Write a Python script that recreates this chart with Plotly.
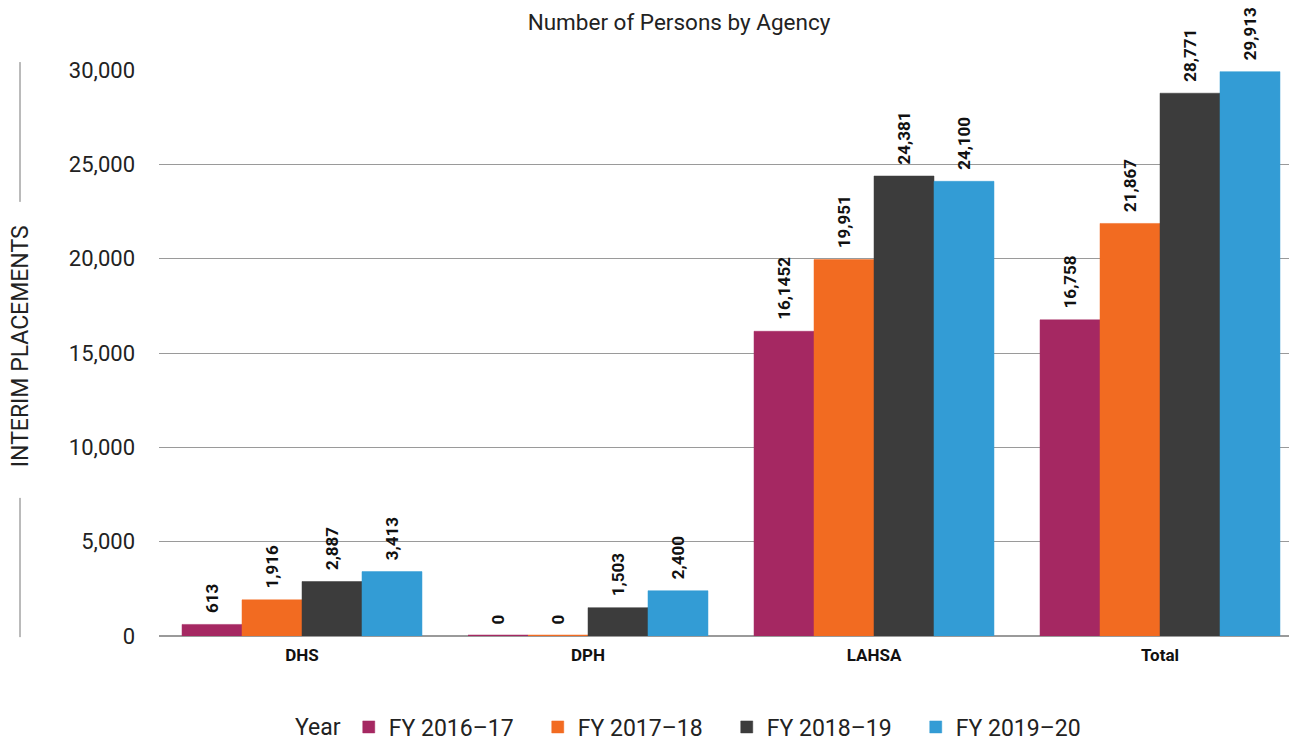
import plotly.graph_objects as go

categories = ["DHS", "DPH", "LAHSA", "Total"]
series_names = ["FY 2016–17", "FY 2017–18", "FY 2018–19", "FY 2019–20"]
fy1617 = [613, 0, 16152, 16758]
fy1718 = [1916, 0, 19951, 21867]
fy1819 = [2887, 1503, 24381, 28771]
fy1920 = [3413, 2400, 24100, 29913]
labels1617 = ["613", "0", "16,1452", "16,758"]
labels1718 = ["1,916", "0", "19,951", "21,867"]
labels1819 = ["2,887", "1,503", "24,381", "28,771"]
labels1920 = ["3,413", "2,400", "24,100", "29,913"]
colors = ["#A52862", "#F26B21", "#3C3C3C", "#339CD5"]
y_ticks = [0, 5000, 10000, 15000, 20000, 25000, 30000]

FONT = "Roboto"
PAD = "\u00a0\u00a0"
fig = go.Figure()
for name, vals, labs, col in zip(series_names, [fy1617, fy1718, fy1819, fy1920],
                                 [labels1617, labels1718, labels1819, labels1920], colors):
    fig.add_trace(go.Bar(
        x=categories, y=vals, name=name, text=[PAD + t for t in labs],
        textposition="outside", textangle=-90, constraintext="none",
        textfont=dict(family=FONT, size=17, color="#111", weight="bold"),
        marker=dict(color=col, line=dict(color=col, width=[2.5 if v == 0 else 0.5 for v in vals])),
        cliponaxis=False,
    ))

fig.update_layout(
    width=1297, height=740,
    paper_bgcolor="white", plot_bgcolor="white",
    font=dict(family=FONT, color="#222"),
    barmode="group", bargap=0.161, bargroupgap=0,
    margin=dict(l=151, r=2, t=62, b=112, autoexpand=False),
    title=dict(text="Number of Persons by Agency", x=(671 / 1297), xanchor="center",
               xref="container", yref="container",
               y=1 - 14 / 740, yanchor="middle", font=dict(family=FONT, size=22.5, color="#222")),
    xaxis=dict(tickfont=dict(family=FONT, size=17, color="#111", weight="bold"),
               showgrid=False, showline=False, ticks="", ticklabelstandoff=7),
    yaxis=dict(range=[0, 30000], tickvals=y_ticks, tickformat=",",
               tickfont=dict(family=FONT, size=22, color="#222"),
               showgrid=True, gridcolor="#9a9a9a", gridwidth=1,
               zeroline=True, zerolinecolor="#9a9a9a", zerolinewidth=1.5,
               ticks="", ticklabelstandoff=23, showline=False),
    legend=dict(orientation="h", x=0.472, xanchor="center",
                yref="container", y=21 / 740, yanchor="middle",
                title=dict(text="Year", font=dict(family=FONT, size=23, color="#222")),
                font=dict(family=FONT, size=23, color="#222"),
                entrywidth=144, entrywidthmode="pixels",
                itemwidth=30, traceorder="normal"),
    annotations=[dict(text="INTERIM PLACEMENTS", textangle=-90, xref="paper", yref="paper",
                      x=-0.1215, y=0.512, xanchor="center", yanchor="middle", showarrow=False,
                      font=dict(family=FONT, size=23, color="#222"))],
    shapes=[
        dict(type="line", xref="paper", yref="paper", x0=-0.1215, x1=-0.1215, y0=0.767, y1=1.014,
             line=dict(color="#777", width=1)),
        dict(type="line", xref="paper", yref="paper", x0=-0.1215, x1=-0.1215, y0=-0.002, y1=0.244,
             line=dict(color="#777", width=1)),
    ],
)

fig.write_html("out.html")
